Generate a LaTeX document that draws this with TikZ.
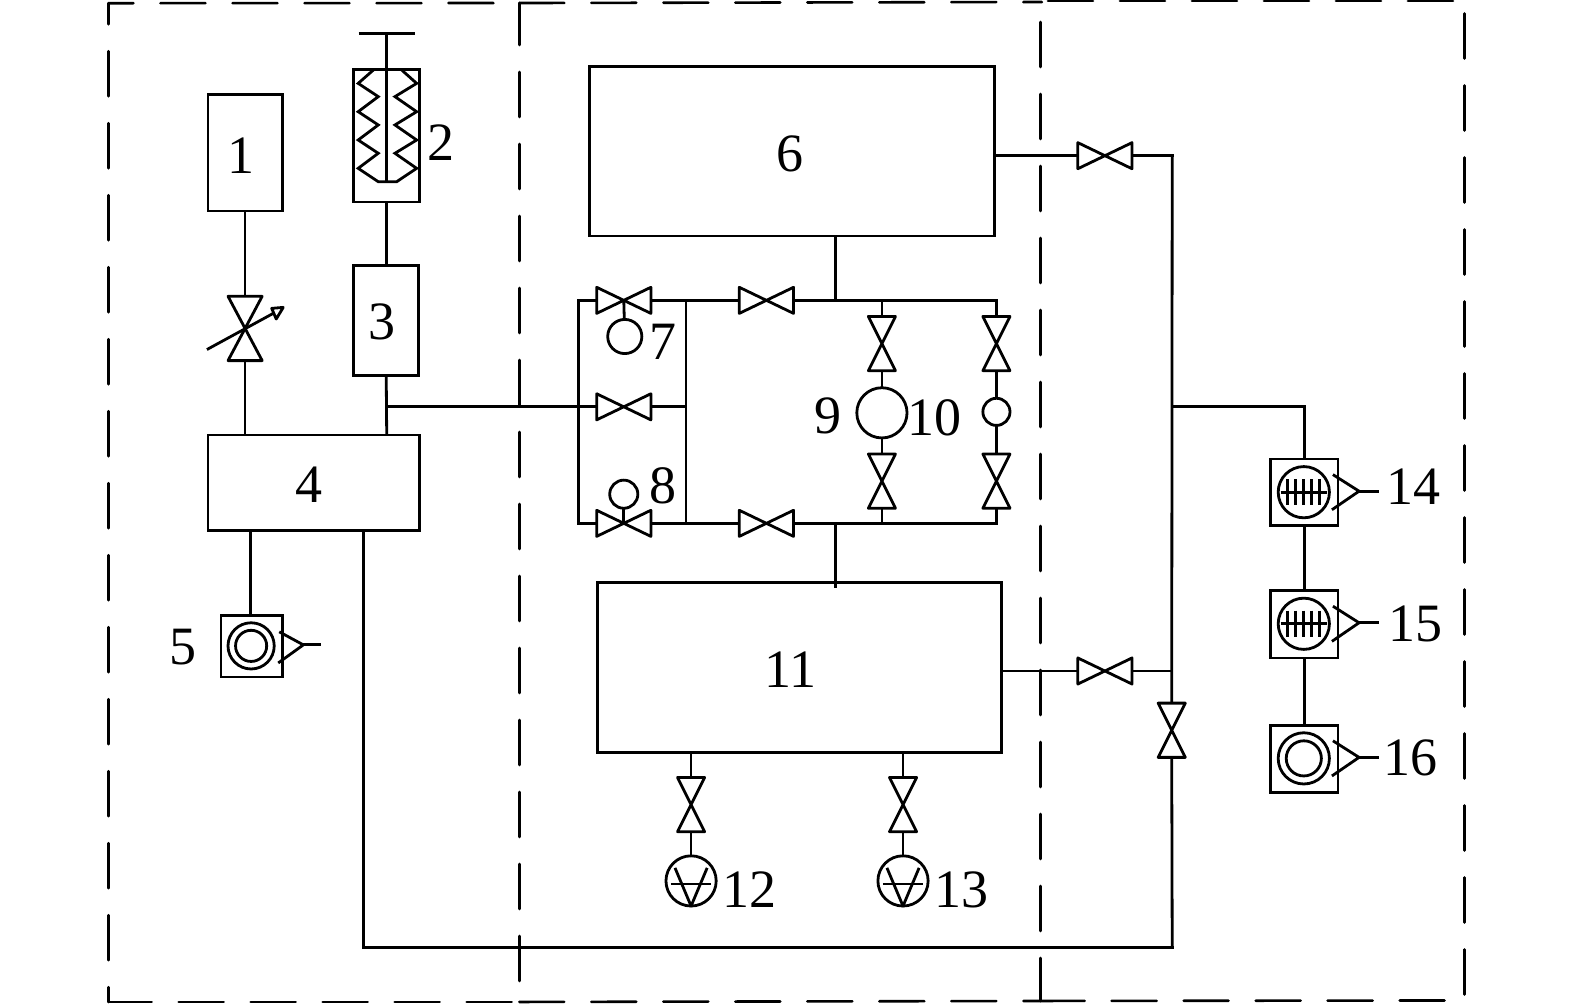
\documentclass[tikz,border=0pt]{standalone}
\usepackage{fontspec}
\setmainfont{Liberation Serif}
\begin{document}
\begin{tikzpicture}[x=1.0045pt,y=-1.0045pt,line width=2.8pt,line join=miter,
  bx/.style 2 args={draw,rectangle,inner sep=0pt,outer sep=0pt,minimum width=#1*1.0045pt,minimum height=#2*1.0045pt},
  lab/.style={inner sep=0pt,outer sep=0pt,font=\fontsize{54}{54}\selectfont},
  ring/.style={draw,circle,inner sep=0pt,outer sep=0pt,minimum size=#1*2.009pt},
  framedash/.style={line width=2.6pt,line cap=round,dash pattern=on 45pt off 27pt,dash phase=#1},
  hv/.pic={\draw[line join=round] (-27,-13)--(27,13)--(27,-13)--(-27,13)--cycle;
    \coordinate (-w) at (-27,0);\coordinate (-e) at (27,0);\coordinate (-c) at (0,0);},
  vv/.pic={\draw[line join=round] (-13.5,-27)--(13.5,27)--(-13.5,27)--(13.5,-27)--cycle;
    \coordinate (-n) at (0,-27);\coordinate (-s) at (0,27);},
  vvbig/.pic={\draw[line join=round] (-17,-32)--(17,32)--(-17,32)--(17,-32)--cycle;
    \coordinate (-n) at (0,-32);\coordinate (-s) at (0,32);},
  horn/.pic={\draw (29,-17.5)--(55,-1)--(28,17.5);\draw (55,-1)--(75,-1);},
  ticks/.pic={\draw (-23,0)--(23,0);\foreach \k in {-16,-8,0,8,16}{\draw[line width=3pt] (\k,-13)--(\k,13);}},
  pumpsym/.pic={\draw[line join=round] (-16,-13)--(0,25)--(16,-13);\draw (-20,3)--(20,3);}
]
\useasboundingbox (0,0) rectangle (1568,1000.5);
% region frames
\coordinate (tl) at (108,3.2);\coordinate (tm1) at (517,3);\coordinate (tm2a) at (1037.3,2);\coordinate (tm2b) at (1043.3,1);\coordinate (tr) at (1458,1);
\coordinate (bl) at (108,997.5);\coordinate (bm1) at (517,997.5);\coordinate (bm2) at (1036,996.5);\coordinate (br) at (1458,996);
\coordinate (m2t) at (1036,3);
\draw[framedash=20] (tl)--(tm1);
\draw[framedash=0] (tm1)--(tm2a);
\draw[framedash=0] (tm2b)--(tr);
\draw[framedash=66] (br)--(1458,3);
\draw[framedash=24] (tl)--(bl);
\draw[framedash=1.8] (bl)--(bm1);
\draw[framedash=0] (bm1)--(bm2);
\draw[framedash=1] (bm2)--(br);
\draw[framedash=3] (tm1)--(bm1);
\draw[framedash=2] (bm2)--(m2t);
% boxes
\node[bx={74}{116}] (b1) at (244,152) {};
\node[bx={66}{132}] (b2) at (385,135) {};
\node[bx={65}{110}] (b3) at (384.5,319) {};
\node[bx={211}{95}] (b4) at (312.5,480.5) {};
\node[bx={61}{61}] (b5) at (250.5,643.5) {};
\node[bx={403}{169}] (b6) at (788.5,150.5) {};
\node[bx={402}{169}] (b11) at (796,664.5) {};
\node[bx={67}{66}] (b14) at (1298.5,490) {};
\node[bx={67}{67}] (b15) at (1298.5,621.5) {};
\node[bx={67}{67}] (b16) at (1298.5,755.5) {};
% labels
\node[lab] (l1) at (240,155) {1};
\node[lab] (l2) at (439,142) {2};
\node[lab] (l3) at (380,320) {3};
\node[lab] (l4) at (308,483) {4};
\node[lab] (l5) at (182,644) {5};
\node[lab] (l6) at (786,153) {6};
\node[lab] (l7) at (660,340) {7};
\node[lab] (l8) at (660,484) {8};
\node[lab] (l9) at (824,414) {9};
\node[lab] (l10) at (930,416) {10};
\node[lab] (l11) at (787,667) {11};
\node[lab] (l12) at (746,886) {12};
\node[lab] (l13) at (957,886) {13};
\node[lab] (l14) at (1407,485) {14};
\node[lab] (l15) at (1409,621) {15};
\node[lab] (l16) at (1404,755) {16};
% syringe
\coordinate (rodtop) at (385,33);
\coordinate (barl) at (357,33);\coordinate (barr) at (413,33);
\coordinate (rodend) at (385,181);
\draw (barl)--(barr);
\draw (rodtop)--(rodend);
\draw (371.7,69.7)--(356.6,83)--(376.6,96.2)--(356.6,111.2)--(376.6,124.4)--(356.6,139.4)--(376.6,152.6)--(356.6,167.6)--(376.6,180.9)--(394.9,180.9)--(414.8,167.6)--(393.2,152.6)--(414.8,139.4)--(393.2,124.4)--(414.8,111.2)--(393.2,96.2)--(414.8,83)--(399.9,69.7);
\draw (b2.south)--(385,0 |- b3.north);
% valves
\pic (va) at (244,327) {vvbig};
\pic (v7) at (621,299) {hv};
\pic (vm) at (621,405) {hv};
\pic (v8) at (621,521) {hv};
\pic (vt) at (763,299) {hv};
\pic (vb) at (763,521) {hv};
\pic (v9a) at (878,342) {vv};
\pic (v9b) at (878,479) {vv};
\pic (v10a) at (992,342) {vv};
\pic (v10b) at (992,479) {vv};
\pic (v6) at (1100,155) {hv};
\pic (v11) at (1100,668) {hv};
\pic (vr) at (1166.5,727) {vv};
\pic (v12) at (688,801) {vv};
\pic (v13) at (899,801) {vv};
% adjustable arrow
\coordinate (arrs) at (206,348);\coordinate (arre) at (272,312);
\draw (arrs)--(arre);
\draw[line join=round] (270.5,307)--(282,306)--(275,317.6)--cycle;
% circles
\node[ring=17] (c7) at (622,335) {};
\node[ring=14] (c8) at (621,492) {};
\node[ring=25] (c9) at (878,411) {};
\node[ring=13.5] (c10) at (992,410) {};
\node[ring=25] (p12) at (688,877) {};
\node[ring=25] (p13) at (899,877) {};
\pic at (688,877) {pumpsym};
\pic at (899,877) {pumpsym};
% gauges
\node[ring=23] (g5o) at (250,643) {};
\node[ring=15.5] (g5i) at (250,643) {};
\node[ring=25.5] (g14) at (1298,490) {};
\node[ring=25.5] (g15) at (1298,621) {};
\node[ring=25.5] (g16o) at (1298,755) {};
\node[ring=17.5] (g16i) at (1298,755) {};
\pic at (1298,490) {ticks};
\pic at (1298,621) {ticks};
\pic at (1298,490) {horn};
\pic at (1298,621) {horn};
\pic at (1298,755) {horn};
\draw (278,629)--(302,642)--(277,660); \draw (302,642)--(320,642);
% junctions
\coordinate (jl) at (576,405);
\coordinate (jr) at (683,405);
\coordinate (jlt) at (576,299);\coordinate (jlb) at (576,521);
\coordinate (jrt) at (683,299);\coordinate (jrb) at (683,521);
\coordinate (t6) at (832,299);\coordinate (t11) at (832,521);
\coordinate (c91) at (878,299);\coordinate (c92) at (878,521);
\coordinate (c101) at (992,299);\coordinate (c102) at (992,521);
\coordinate (r1) at (1167,155);\coordinate (r2) at (1167,405);\coordinate (r3) at (1167,668);\coordinate (r4) at (1167,943);
\coordinate (ret) at (362,943);
% connectors
\draw (b1.south -| va-n)--(va-n);
\draw (va-s)--(va-s |- b4.north);
\draw (b3.south)--(385,0 |- b4.north);
\draw (385,405)--(vm-w);
\draw (vm-e)--(jr);
\draw[line cap=rect] (jlt)--(jlb);
\draw[line cap=rect] (jrt)--(jrb);
\draw (jlt)--(v7-w);
\draw (v7-e)--(vt-w);
\draw (vt-e)--(c101);
\draw (jlb)--(v8-w);
\draw (v8-e)--(vb-w);
\draw (vb-e)--(c102);
\draw (v7-c)--(c7);
\draw (v8-c)--(c8);
\draw (t6 |- b6.south)--(t6);
\draw (t11)--(832,585);
\draw[line cap=rect] (c91)--(v9a-n);
\draw (v9a-s)--(c9);
\draw (c9)--(v9b-n);
\draw (v9b-s)--(c92);
\draw[line cap=rect] (c101)--(v10a-n);
\draw (v10a-s)--(c10);
\draw (c10)--(v10b-n);
\draw[line cap=rect] (v10b-s)--(c102);
\draw (b6.east |- v6-w)--(v6-w);
\draw[line cap=rect] (v6-e)--(r1);
\draw (r1)--(vr-n);
\draw (vr-s)--(r4);
\draw (b11.east |- v11-w)--(v11-w);
\draw (v11-e)--(r3);
\draw[line cap=rect] (r4)--(ret);
\draw (ret)--(ret |- b4.south);
\draw (249,0 |- b4.south)--(249,0 |- b5.north);
\draw[line join=miter] (r2)--(1299,405)--(1299,0 |- b14.north);
\draw (b14.south)--(b15.north);
\draw (b15.south)--(b16.north);
\draw (v12-n |- b11.south)--(v12-n);
\draw (v12-s)--(p12);
\draw (v13-n |- b11.south)--(v13-n);
\draw (v13-s)--(p13);
\end{tikzpicture}
\end{document}
